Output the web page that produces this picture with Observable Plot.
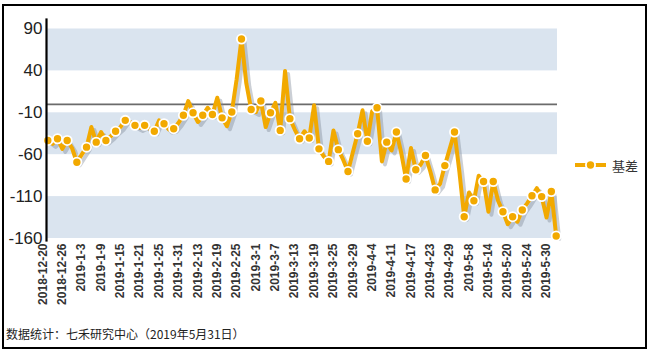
<!DOCTYPE html>
<html>
<head>
<meta charset="utf-8">
<script src="https://cdn.jsdelivr.net/npm/d3@7"></script>
<script src="https://cdn.jsdelivr.net/npm/@observablehq/plot@0.6"></script>
<style>
  html, body { margin: 0; padding: 0; background: #fff; }
  #wrap { position: relative; width: 650px; height: 352px; overflow: hidden; }
  #chart { position: absolute; left: 0; top: 0; }
  #border { position: absolute; left: 2px; top: 4px; width: 641px; height: 341px; border: 2px solid #000; }
  #legend { position: absolute; left: 574px; top: 156px; height: 18px; display: flex; align-items: center; }
  #legend span { font-family: "Noto Sans CJK SC", sans-serif; font-size: 13px; color: #333; margin-left: 5px; }
  #caption { position: absolute; left: 6px; top: 325px; font-family: "Noto Sans CJK SC", sans-serif; font-size: 12px; color: #222; white-space: nowrap; }
</style>
</head>
<body>
<div id="wrap">
  <div id="chart"></div>
  <div id="border"></div>
  <div id="legend"></div>
  <div id="caption"></div>
</div>
<script>
// ---- data ----
const seriesName = "基差";
const captionText = "数据统计：七禾研究中心（2019年5月31日）";

const dates = [
  "2018-12-20","2018-12-21","2018-12-24","2018-12-25","2018-12-26","2018-12-27","2018-12-28",
  "2019-1-2","2019-1-3","2019-1-4","2019-1-7","2019-1-8","2019-1-9","2019-1-10","2019-1-11",
  "2019-1-14","2019-1-15","2019-1-16","2019-1-17","2019-1-18","2019-1-21","2019-1-22","2019-1-23",
  "2019-1-24","2019-1-25","2019-1-28","2019-1-29","2019-1-30","2019-1-31","2019-2-1",
  "2019-2-11","2019-2-12","2019-2-13","2019-2-14","2019-2-15","2019-2-18","2019-2-19","2019-2-20",
  "2019-2-21","2019-2-22","2019-2-25","2019-2-26","2019-2-27","2019-2-28","2019-3-1",
  "2019-3-4","2019-3-5","2019-3-6","2019-3-7","2019-3-8","2019-3-11","2019-3-12","2019-3-13",
  "2019-3-14","2019-3-15","2019-3-18","2019-3-19","2019-3-20","2019-3-21","2019-3-22",
  "2019-3-25","2019-3-26","2019-3-27","2019-3-28","2019-3-29","2019-4-1","2019-4-2","2019-4-3",
  "2019-4-4","2019-4-8","2019-4-9","2019-4-10","2019-4-11","2019-4-12","2019-4-15","2019-4-16",
  "2019-4-17","2019-4-18","2019-4-19","2019-4-22","2019-4-23","2019-4-24","2019-4-25","2019-4-26",
  "2019-4-29","2019-4-30","2019-5-6","2019-5-7","2019-5-8","2019-5-9","2019-5-10","2019-5-13",
  "2019-5-14","2019-5-15","2019-5-16","2019-5-17","2019-5-20","2019-5-21","2019-5-22","2019-5-23",
  "2019-5-24","2019-5-27","2019-5-28","2019-5-29","2019-5-30","2019-5-31"
];

const basis = [
  -43, -47, -41, -53, -43, -52, -69, -60, -51, -27,
  -45, -33, -43, -38, -32, -27, -19, -21, -25, -28,
  -25, -29, -32, -19, -23, -30, -29, -22, -13, 4,
  -10, -21, -13, -4, -12, 8, -16, -26, -9, 30,
  78, 25, -6, -9, 4, -27, -10, 2, -31, 40,
  -17, -30, -41, -32, -40, -1, -53, -62, -68, -31,
  -54, -66, -80, -57, -35, -7, -44, -8, -4, -68,
  -45, -55, -33, -58, -89, -52, -78, -72, -61, -80,
  -102, -95, -73, -53, -33, -80, -134, -105, -115, -85,
  -92, -128, -92, -115, -128, -143, -134, -140, -126, -118,
  -109, -100, -110, -135, -104, -157
];

const tickLabels = [
  "2018-12-20","2018-12-26","2019-1-3","2019-1-9","2019-1-15","2019-1-21","2019-1-25",
  "2019-1-31","2019-2-13","2019-2-19","2019-2-25","2019-3-1","2019-3-7","2019-3-13",
  "2019-3-19","2019-3-25","2019-3-29","2019-4-4","2019-4-11","2019-4-17","2019-4-23",
  "2019-4-29","2019-5-8","2019-5-14","2019-5-20","2019-5-24","2019-5-30"
];

const yTicks = [90, 40, -10, -60, -110, -160];
const bandLo = [40, -60, -160];
const bandHi = [90, -10, -110];

// ---- build ----
const ORANGE = "#f2a900";
const data = dates.map((d, i) => ({date: d, value: basis[i], i}));
const markerData = data.filter(d => d.i % 2 === 0 || d.i === data.length - 1);
const bands = bandLo.map((lo, k) => ({lo, hi: bandHi[k]}));

const chart = Plot.plot({
  width: 650,
  height: 352,
  marginLeft: 46,
  marginRight: 93,
  marginTop: 19,
  marginBottom: 112,
  style: {fontFamily: "'Liberation Sans', Arial, sans-serif", background: "transparent", color: "#222"},
  x: {type: "point", domain: dates, padding: 0.27},
  y: {domain: [-160, 90], range: [238, 28.5]},
  marks: [
    Plot.rect(bands, {y1: "lo", y2: "hi", fill: "#dae4ef"}),
    Plot.ruleY([0], {stroke: "#6b6b6b", strokeWidth: 1.6}),
    Plot.line(data, {x: "date", y: "value", stroke: "#7d8895", strokeOpacity: 0.4, strokeWidth: 4, dx: 3, dy: 3}),
    Plot.line(data, {x: "date", y: "value", stroke: ORANGE, strokeWidth: 4}),
    Plot.dot(markerData, {x: "date", y: "value", r: 4.6, fill: ORANGE, stroke: "white", strokeWidth: 1.8}),
    Plot.frame({anchor: "left", stroke: "#000", strokeWidth: 2.2}),
    Plot.axisY({ticks: yTicks, tickFormat: d => String(d), tickSize: 0, tickPadding: 4, fontSize: 17, label: null, fill: "#222"}),
    Plot.axisX({ticks: tickLabels, tickSize: 0, tickPadding: 3, tickRotate: -90, fontSize: 12, fontWeight: "bold", label: null, dx: -5, fill: "#333"})
  ]
});
document.getElementById("chart").appendChild(chart);

// legend
const lg = document.getElementById("legend");
lg.innerHTML = `<svg width="33" height="18"><line x1="1" y1="9" x2="32" y2="9" stroke="${ORANGE}" stroke-width="4"/><circle cx="16.5" cy="9" r="4.6" fill="${ORANGE}" stroke="white" stroke-width="1.8"/></svg>`;
const sp = document.createElement("span");
sp.textContent = seriesName;
lg.appendChild(sp);

document.getElementById("caption").textContent = captionText;
</script>
</body>
</html>
